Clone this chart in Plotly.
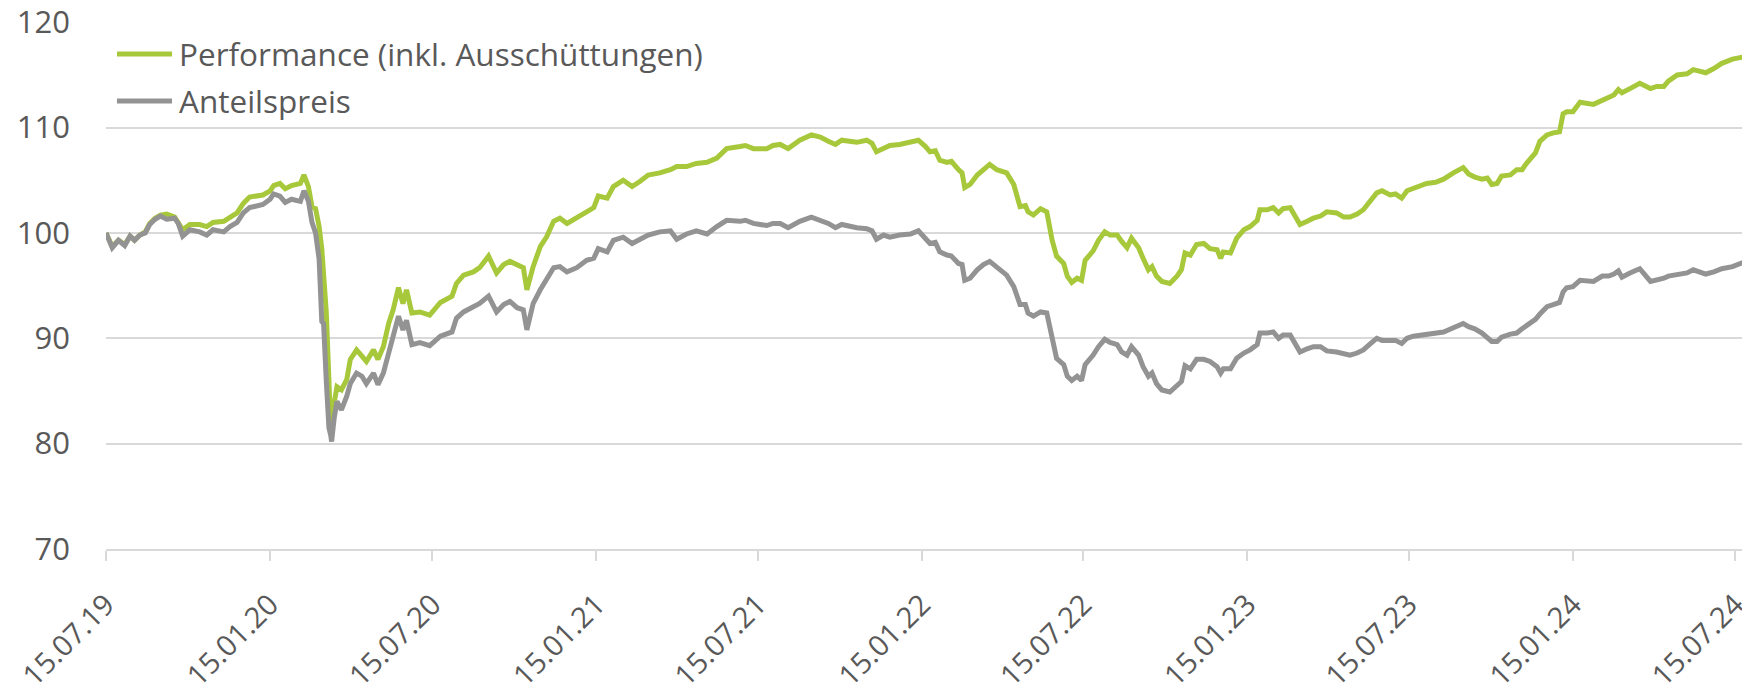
import plotly.graph_objects as go

dates = [
    "2019-07-15", "2019-07-22", "2019-07-29", "2019-08-05", "2019-08-11", "2019-08-16", "2019-08-22", "2019-08-28",
    "2019-09-02", "2019-09-08", "2019-09-14", "2019-09-21", "2019-09-30", "2019-10-04", "2019-10-09", "2019-10-17",
    "2019-10-28", "2019-11-05", "2019-11-12", "2019-11-24", "2019-12-01", "2019-12-09", "2019-12-16", "2019-12-23",
    "2020-01-07", "2020-01-15", "2020-01-19", "2020-01-26", "2020-02-01", "2020-02-08", "2020-02-18", "2020-02-22",
    "2020-02-27", "2020-03-02", "2020-03-06", "2020-03-10", "2020-03-13", "2020-03-15", "2020-03-18", "2020-03-21",
    "2020-03-23", "2020-03-24", "2020-03-27", "2020-03-30", "2020-04-04", "2020-04-10", "2020-04-14", "2020-04-21",
    "2020-04-27", "2020-05-02", "2020-05-10", "2020-05-15", "2020-05-21", "2020-05-27", "2020-06-01", "2020-06-07",
    "2020-06-12", "2020-06-16", "2020-06-22", "2020-07-01", "2020-07-12", "2020-07-24", "2020-08-06", "2020-08-11",
    "2020-08-19", "2020-08-30", "2020-09-06", "2020-09-16", "2020-09-25", "2020-10-03", "2020-10-10", "2020-10-18",
    "2020-10-25", "2020-10-29", "2020-11-05", "2020-11-13", "2020-11-20", "2020-11-28", "2020-12-05", "2020-12-13",
    "2020-12-24", "2021-01-04", "2021-01-12", "2021-01-17", "2021-01-27", "2021-02-03", "2021-02-14", "2021-02-24",
    "2021-03-05", "2021-03-14", "2021-03-27", "2021-04-08", "2021-04-15", "2021-04-26", "2021-05-07", "2021-05-19",
    "2021-05-30", "2021-06-10", "2021-06-25", "2021-07-01", "2021-07-10", "2021-07-25", "2021-08-01", "2021-08-09",
    "2021-08-18", "2021-08-31", "2021-09-13", "2021-09-23", "2021-10-02", "2021-10-10", "2021-10-17", "2021-11-03",
    "2021-11-14", "2021-11-20", "2021-11-25", "2021-12-03", "2021-12-10", "2021-12-21", "2022-01-02", "2022-01-11",
    "2022-01-19", "2022-01-24", "2022-01-30", "2022-02-04", "2022-02-12", "2022-02-17", "2022-02-25", "2022-03-01",
    "2022-03-04", "2022-03-10", "2022-03-18", "2022-03-25", "2022-04-01", "2022-04-09", "2022-04-20", "2022-04-28",
    "2022-05-05", "2022-05-11", "2022-05-14", "2022-05-20", "2022-05-28", "2022-06-04", "2022-06-10", "2022-06-15",
    "2022-06-23", "2022-06-27", "2022-07-02", "2022-07-08", "2022-07-13", "2022-07-17", "2022-07-26", "2022-08-01",
    "2022-08-08", "2022-08-14", "2022-08-22", "2022-08-27", "2022-09-02", "2022-09-07", "2022-09-15", "2022-09-20",
    "2022-09-26", "2022-09-30", "2022-10-05", "2022-10-11", "2022-10-20", "2022-10-28", "2022-11-02", "2022-11-06",
    "2022-11-12", "2022-11-19", "2022-11-27", "2022-12-04", "2022-12-12", "2022-12-16", "2022-12-19", "2022-12-27",
    "2023-01-03", "2023-01-11", "2023-01-18", "2023-01-26", "2023-01-29", "2023-02-06", "2023-02-13", "2023-02-19",
    "2023-02-24", "2023-03-04", "2023-03-10", "2023-03-15", "2023-03-23", "2023-03-30", "2023-04-07", "2023-04-14",
    "2023-04-25", "2023-05-03", "2023-05-10", "2023-05-18", "2023-05-25", "2023-06-02", "2023-06-09", "2023-06-15",
    "2023-06-24", "2023-06-30", "2023-07-07", "2023-07-13", "2023-07-20", "2023-07-28", "2023-08-04", "2023-08-14",
    "2023-08-23", "2023-09-03", "2023-09-14", "2023-09-20", "2023-09-27", "2023-10-05", "2023-10-11", "2023-10-16",
    "2023-10-22", "2023-10-27", "2023-11-06", "2023-11-13", "2023-11-19", "2023-11-24", "2023-12-04", "2023-12-09",
    "2023-12-17", "2023-12-24", "2023-12-31", "2024-01-04", "2024-01-08", "2024-01-15", "2024-01-23", "2024-02-07",
    "2024-02-17", "2024-02-24", "2024-03-01", "2024-03-06", "2024-03-10", "2024-03-19", "2024-03-30", "2024-04-11",
    "2024-04-18", "2024-04-26", "2024-05-01", "2024-05-11", "2024-05-22", "2024-05-29", "2024-06-12", "2024-06-21",
    "2024-06-30", "2024-07-12", "2024-07-24",
]

performance = [
    100.0, 98.7, 99.3, 98.9, 99.7, 99.3, 99.8, 100.1,
    100.9, 101.4, 101.7, 101.8, 101.5, 101.0, 100.3, 100.8,
    100.8, 100.6, 101.0, 101.1, 101.5, 101.9, 102.8, 103.4,
    103.6, 104.0, 104.5, 104.7, 104.2, 104.5, 104.7, 105.5,
    104.4, 102.5, 102.3, 100.6, 98.5, 96.0, 92.5, 86.0,
    81.2, 82.5, 84.0, 85.4, 85.1, 86.1, 88.0, 88.9,
    88.3, 87.8, 88.9, 88.0, 89.2, 91.4, 92.7, 94.8,
    93.3, 94.6, 92.4, 92.5, 92.2, 93.4, 94.0, 95.2,
    96.0, 96.3, 96.7, 97.8, 96.2, 97.0, 97.3, 97.0,
    96.7, 94.6, 96.8, 98.7, 99.6, 101.1, 101.4, 100.9,
    101.4, 102.0, 102.4, 103.5, 103.3, 104.4, 105.0, 104.4,
    104.9, 105.5, 105.7, 106.0, 106.3, 106.3, 106.6, 106.7,
    107.1, 108.0, 108.2, 108.3, 108.0, 108.0, 108.3, 108.4,
    108.0, 108.8, 109.3, 109.1, 108.7, 108.4, 108.8, 108.6,
    108.8, 108.5, 107.7, 108.0, 108.3, 108.4, 108.6, 108.8,
    108.2, 107.7, 107.8, 106.9, 106.7, 106.8, 106.0, 105.7,
    104.3, 104.6, 105.5, 106.0, 106.5, 106.0, 105.7, 104.6,
    102.5, 102.6, 102.0, 101.7, 102.3, 102.0, 99.3, 97.8,
    97.1, 95.9, 95.3, 95.7, 95.5, 97.4, 98.3, 99.3,
    100.1, 99.8, 99.8, 99.2, 98.6, 99.5, 98.6, 97.6,
    96.5, 96.8, 95.9, 95.4, 95.2, 95.9, 96.5, 98.1,
    97.9, 98.9, 99.0, 98.5, 98.4, 97.6, 98.2, 98.1,
    99.5, 100.3, 100.6, 101.2, 102.2, 102.2, 102.4, 101.9,
    102.3, 102.4, 101.5, 100.8, 101.1, 101.4, 101.6, 102.0,
    101.9, 101.5, 101.5, 101.8, 102.2, 103.0, 103.8, 104.0,
    103.6, 103.7, 103.3, 104.0, 104.2, 104.5, 104.7, 104.8,
    105.1, 105.7, 106.2, 105.6, 105.3, 105.1, 105.2, 104.6,
    104.7, 105.4, 105.5, 106.0, 106.0, 106.6, 107.6, 108.7,
    109.3, 109.5, 109.6, 111.3, 111.5, 111.5, 112.4, 112.2,
    112.6, 112.9, 113.1, 113.6, 113.3, 113.7, 114.2, 113.7,
    113.9, 113.9, 114.4, 115.0, 115.1, 115.5, 115.2, 115.6,
    116.1, 116.5, 116.7,
]

anteilspreis = [
    100.0, 98.6, 99.3, 98.8, 99.7, 99.3, 99.8, 100.0,
    100.8, 101.3, 101.6, 101.3, 101.4, 100.9, 99.7, 100.3,
    100.1, 99.8, 100.3, 100.1, 100.6, 101.0, 101.9, 102.4,
    102.7, 103.2, 103.7, 103.5, 102.9, 103.2, 103.0, 104.0,
    103.0, 101.0, 100.0, 97.5, 91.6, 91.4, 86.0, 81.5,
    80.8, 80.2, 82.5, 84.0, 83.2, 84.5, 85.7, 86.7,
    86.4, 85.7, 86.7, 85.6, 86.7, 88.7, 90.5, 92.1,
    90.8, 91.7, 89.4, 89.6, 89.3, 90.2, 90.6, 91.9,
    92.5, 93.0, 93.3, 94.0, 92.5, 93.2, 93.5, 92.9,
    92.7, 90.8, 93.3, 94.6, 95.5, 96.7, 96.8, 96.3,
    96.7, 97.4, 97.6, 98.5, 98.2, 99.3, 99.6, 99.0,
    99.4, 99.8, 100.1, 100.2, 99.4, 99.9, 100.2, 99.9,
    100.6, 101.2, 101.1, 101.2, 100.9, 100.7, 100.9, 100.9,
    100.5, 101.1, 101.5, 101.2, 100.9, 100.5, 100.8, 100.5,
    100.4, 100.2, 99.4, 99.8, 99.6, 99.8, 99.9, 100.2,
    99.4, 99.0, 99.1, 98.2, 97.9, 97.8, 97.1, 97.0,
    95.5, 95.7, 96.5, 97.0, 97.3, 96.7, 96.0, 94.9,
    93.2, 93.2, 92.4, 92.1, 92.5, 92.4, 89.8, 88.1,
    87.5, 86.4, 86.0, 86.4, 86.0, 87.5, 88.4, 89.2,
    89.9, 89.6, 89.4, 88.7, 88.4, 89.2, 88.4, 87.3,
    86.4, 86.7, 85.7, 85.1, 84.9, 85.5, 85.9, 87.4,
    87.1, 88.0, 88.0, 87.8, 87.3, 86.7, 87.1, 87.1,
    88.1, 88.6, 88.9, 89.4, 90.5, 90.5, 90.6, 90.0,
    90.3, 90.3, 89.4, 88.7, 89.0, 89.2, 89.2, 88.8,
    88.7, 88.6, 88.4, 88.6, 88.9, 89.5, 90.0, 89.8,
    89.8, 89.8, 89.5, 90.0, 90.2, 90.3, 90.4, 90.5,
    90.6, 91.0, 91.4, 91.1, 90.9, 90.5, 90.1, 89.7,
    89.7, 90.1, 90.4, 90.5, 90.9, 91.2, 91.8, 92.3,
    93.0, 93.2, 93.4, 94.4, 94.8, 94.9, 95.5, 95.4,
    95.9, 95.9, 96.1, 96.4, 95.8, 96.2, 96.6, 95.4,
    95.5, 95.7, 95.9, 96.1, 96.2, 96.5, 96.1, 96.3,
    96.6, 96.8, 97.2,
]

series_names = ["Performance (inkl. Ausschüttungen)", "Anteilspreis"]
series_colors = ["#a8c83c", "#939393"]

x_range = ["2019-07-15", "2024-07-26"]
y_range = [70, 120.02]
y_ticks = [70, 80, 90, 100, 110, 120]

FONT = "Open Sans, Roboto, DejaVu Sans, sans-serif"
TEXT = "#595959"
GRID = "#d9d9d9"

fig = go.Figure()
for name, vals, col in zip(series_names, [performance, anteilspreis], series_colors):
    fig.add_trace(go.Scatter(
        x=dates, y=vals, mode="lines", name=name, showlegend=False,
        line=dict(color=col, width=5),
    ))

# manual legend (line sample + text) in paper coordinates
legend_rows_y = [0.9393, 0.8501]
for name, col, ly in zip(series_names, series_colors, legend_rows_y):
    fig.add_shape(type="line", xref="paper", yref="paper",
                  x0=0.0067, x1=0.0403, y0=ly, y1=ly,
                  line=dict(color=col, width=5))
    fig.add_annotation(xref="paper", yref="paper", x=0.0432, y=ly,
                       xanchor="left", yanchor="middle", showarrow=False,
                       text=name, font=dict(size=31.5, color=TEXT, family=FONT))

# the page body adds an 8px offset, so the figure is 8px smaller than the window
fig.update_layout(
    width=1742, height=682,
    margin=dict(l=98, r=5, t=14, b=141, autoexpand=False),
    paper_bgcolor="white", plot_bgcolor="white",
    font=dict(family=FONT, color=TEXT, size=31),
    showlegend=False,
    xaxis=dict(
        type="date", range=x_range, automargin=False,
        tick0="2019-07-15", dtick="M6", tickformat="%d.%m.%y",
        tickangle=-45, ticks="outside", ticklen=10, tickwidth=2, tickcolor=GRID,
        showline=True, linecolor=GRID, linewidth=2,
        showgrid=False, zeroline=False,
        tickfont=dict(size=29, color=TEXT, family=FONT),
        ticklabelstandoff=15, ticklabeloverflow="allow",
    ),
    yaxis=dict(
        range=y_range, tickvals=y_ticks, automargin=False,
        showgrid=True, gridcolor=GRID, gridwidth=2,
        zeroline=False, showline=False, ticks="",
        tickfont=dict(size=31, color=TEXT, family=FONT),
        ticklabelstandoff=35, ticklabeloverflow="allow",
    ),
)

fig.write_html("out.html")
